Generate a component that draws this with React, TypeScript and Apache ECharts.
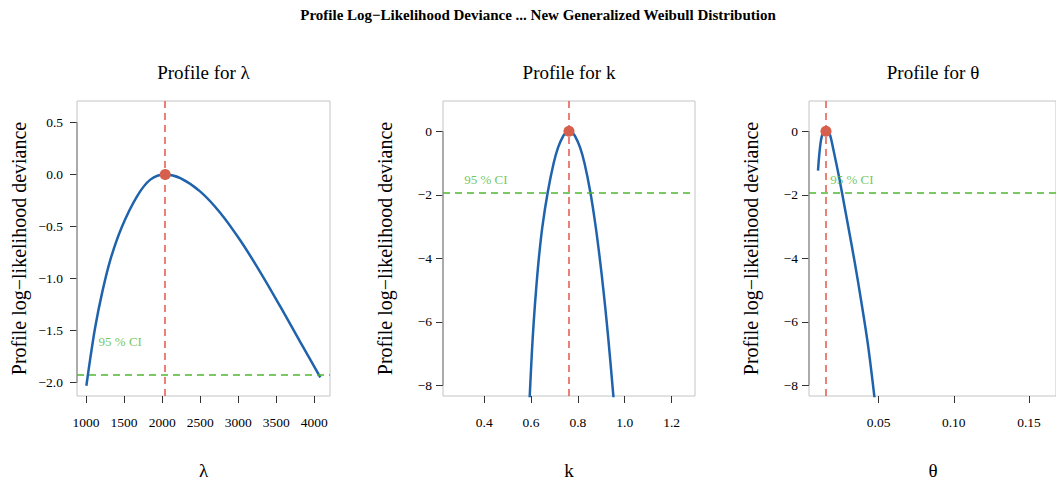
import React, { useEffect, useRef } from "react";
import * as echarts from "echarts";

// ---------- data ----------
const mainTitle = "Profile Log\u2212Likelihood Deviance ... New Generalized Weibull Distribution";
const panelTitles = ["Profile for \u03bb", "Profile for k", "Profile for \u03b8"];
const xNames = ["\u03bb", "k", "\u03b8"];
const yName = "Profile log\u2212likelihood deviance";
const ciLabel = "95 % CI";
const ciLevel = -1.92;

const lambdaX = [1004, 1057, 1122, 1210, 1319, 1473, 1670, 1845, 2040, 2239, 2502, 2765, 3028, 3291, 3554, 3816, 4079];
const lambdaDev = [-2.03, -1.76, -1.46, -1.14, -0.82, -0.5, -0.21, -0.05, 0.0, -0.035, -0.165, -0.37, -0.635, -0.94, -1.27, -1.61, -1.95];

const kX = [0.5909, 0.5946, 0.6033, 0.6114, 0.6214, 0.6332, 0.6484, 0.6712, 0.6966, 0.7159, 0.737, 0.7511, 0.7625, 0.7739, 0.7878, 0.8088, 0.828, 0.8532, 0.8759, 0.8934, 0.9089, 0.9229, 0.9356, 0.951, 0.9591];
const kDev = [-9, -8.3, -7, -6, -5, -4, -3, -1.92, -1.0, -0.5, -0.15, -0.03, 0.0, -0.03, -0.15, -0.5, -1.0, -1.92, -3, -4, -5, -6, -7, -8.3, -9];

const thetaX = [0.0097, 0.0105, 0.0116, 0.0127, 0.0138, 0.0149, 0.0163, 0.0176, 0.0198, 0.0231, 0.0256, 0.0298, 0.0342, 0.0386, 0.043, 0.0468, 0.0482];
const thetaDev = [-1.24, -0.75, -0.3, -0.08, -0.01, 0.0, -0.02, -0.1, -0.55, -1.3, -1.92, -3.0, -4.15, -5.4, -6.75, -8.2, -8.8];

const mleValues = [2040, 0.762, 0.015];
const ciLabelPos = [
  [1450, -1.6],
  [0.407, -1.51],
  [0.0322, -1.51],
];

const lambdaTicks = [1000, 1500, 2000, 2500, 3000, 3500, 4000];
const kTicks = [0.4, 0.6, 0.8, 1.0, 1.2];
const thetaTicks = [0.05, 0.1, 0.15];
const devTicksLambda = [-2.0, -1.5, -1.0, -0.5, 0.0, 0.5];
const devTicksOther = [-8, -6, -4, -2, 0];

const xRanges = [
  [881, 4206],
  [0.224, 1.3],
  [0.0037, 0.168],
];
const yRanges = [
  [-2.128, 0.705],
  [-8.337, 0.955],
  [-8.337, 0.955],
];

// ---------- style ----------
const FONT = '"Liberation Serif", "Times New Roman", serif';
const BLUE = "#1f63ad";
const RED = "#e5574d";
const DOT = "#d6604d";
const GREEN = "#4fb82f";

const grids = [
  { left: 77, top: 101, width: 253, height: 295 },
  { left: 443, top: 101, width: 252, height: 295 },
  { left: 809, top: 101, width: 248, height: 295 },
];
const xDecimals = [0, 1, 2];
const yDecimals = [1, 0, 0];
const yLabelMargins = [14, 11, 11];

const fmt = (v: number, d: number) => v.toFixed(d).replace("-", "\u2212");

export default function App() {
  const ref = useRef<HTMLDivElement>(null);

  useEffect(() => {
    if (!ref.current) return;
    const chart = echarts.init(ref.current, null, { renderer: "svg" });

    const curves = [
      lambdaX.map((x, i) => [x, lambdaDev[i]]),
      kX.map((x, i) => [x, kDev[i]]),
      thetaX.map((x, i) => [x, thetaDev[i]]),
    ];
    const xTicks = [lambdaTicks, kTicks, thetaTicks];
    const yTicks = [devTicksLambda, devTicksOther, devTicksOther];

    const xAxis = grids.map((_, i) => ({
      type: "value",
      gridIndex: i,
      min: xRanges[i][0],
      max: xRanges[i][1],
      axisLine: { show: false, onZero: false },
      splitLine: { show: false },
      axisTick: { show: true, customValues: xTicks[i], length: 7, lineStyle: { color: "#333" } },
      axisLabel: {
        customValues: xTicks[i],
        formatter: (v: number) => fmt(v, xDecimals[i]),
        fontFamily: FONT,
        fontSize: 13.5,
        color: "#000",
        margin: 19,
      },
    }));
    const yAxis = grids.map((_, i) => ({
      type: "value",
      gridIndex: i,
      min: yRanges[i][0],
      max: yRanges[i][1],
      axisLine: { show: false, onZero: false },
      splitLine: { show: false },
      axisTick: { show: true, customValues: yTicks[i], length: 7, lineStyle: { color: "#333" } },
      axisLabel: {
        customValues: yTicks[i],
        formatter: (v: number) => fmt(v, yDecimals[i]),
        fontFamily: FONT,
        fontSize: 13.5,
        color: "#000",
        margin: yLabelMargins[i],
      },
    }));

    const series: any[] = [];
    grids.forEach((_, i) => {
      series.push({
        type: "line",
        xAxisIndex: i,
        yAxisIndex: i,
        data: curves[i],
        smooth: 0.35,
        showSymbol: false,
        lineStyle: { color: BLUE, width: 2.5 },
        z: 2,
        markLine: {
          silent: true,
          precision: 6,
          symbol: ["none", "none"],
          label: { show: false },
          data: [
            { xAxis: mleValues[i], lineStyle: { color: RED, type: [7, 5], width: 1.5 } },
            { yAxis: ciLevel, lineStyle: { color: GREEN, type: [7, 5], width: 1.5 } },
          ],
        },
      });
      series.push({
        type: "scatter",
        xAxisIndex: i,
        yAxisIndex: i,
        data: [[mleValues[i], 0]],
        symbolSize: 11,
        itemStyle: { color: DOT, opacity: 1 },
        z: 5,
      });
      series.push({
        type: "scatter",
        xAxisIndex: i,
        yAxisIndex: i,
        data: [ciLabelPos[i]],
        symbolSize: 0,
        silent: true,
        label: {
          show: true,
          position: "inside",
          formatter: ciLabel,
          color: GREEN,
          fontFamily: FONT,
          fontSize: 13,
        },
        z: 4,
      });
      // R-style axis segment between first and last tick
      series.push({
        type: "line",
        xAxisIndex: i,
        yAxisIndex: i,
        data: [
          [xRanges[i][0], yTicks[i][0]],
          [xRanges[i][0], yTicks[i][yTicks[i].length - 1]],
        ],
        showSymbol: false,
        clip: false,
        silent: true,
        lineStyle: { color: "#999", width: 1.5 },
        z: 1,
      });
    });

    const graphics: any[] = [
      {
        type: "text",
        x: 538,
        y: 15,
        style: {
          text: mainTitle,
          fontFamily: FONT,
          fontSize: 15,
          fontWeight: "bold",
          fill: "#000",
          align: "center",
          verticalAlign: "middle",
          textAlign: "center",
          textVerticalAlign: "middle",
        },
      },
    ];
    grids.forEach((g, i) => {
      const cx = g.left + g.width / 2;
      const cy = g.top + g.height / 2;
      graphics.push({
        type: "text",
        x: cx,
        y: 72,
        style: {
          text: panelTitles[i],
          fontFamily: FONT,
          fontSize: 19,
          fill: "#000",
          align: "center",
          verticalAlign: "middle",
          textAlign: "center",
          textVerticalAlign: "middle",
        },
      });
      graphics.push({
        type: "text",
        x: cx,
        y: 470,
        style: {
          text: xNames[i],
          fontFamily: FONT,
          fontSize: 19,
          fill: "#000",
          align: "center",
          verticalAlign: "middle",
          textAlign: "center",
          textVerticalAlign: "middle",
        },
      });
      graphics.push({
        type: "text",
        x: g.left - 58,
        y: cy,
        rotation: Math.PI / 2,
        style: {
          text: yName,
          fontFamily: FONT,
          fontSize: 20,
          fill: "#000",
          align: "center",
          verticalAlign: "middle",
          textAlign: "center",
          textVerticalAlign: "middle",
        },
      });
    });

    chart.setOption({
      animation: false,
      backgroundColor: "#fff",
      grid: grids.map((g) => ({
        ...g,
        show: true,
        borderColor: "#c4c4c4",
        borderWidth: 1,
        backgroundColor: "transparent",
      })),
      xAxis,
      yAxis,
      series,
      graphic: graphics,
    });

    return () => chart.dispose();
  }, []);

  return (
    <div
      ref={ref}
      style={{ position: "absolute", left: 0, top: 0, width: 1056, height: 484 }}
    />
  );
}
